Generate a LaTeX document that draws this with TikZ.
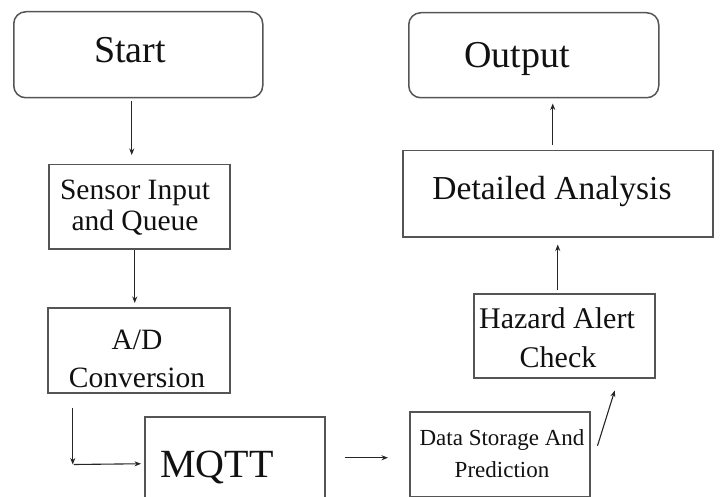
\documentclass[tikz,border=0pt]{standalone}
\usepackage{fontspec}
\setmainfont{Liberation Serif}
\usetikzlibrary{arrows.meta,calc}
\definecolor{boxgray}{HTML}{555555}
\definecolor{arrgray}{HTML}{252525}
\definecolor{txtcol}{HTML}{111111}
\begin{document}
\begin{tikzpicture}[x=1pt,y=-1pt,
  box/.style={draw=boxgray,line width=1.5pt,inner sep=0pt,anchor=north west,fill=white},
  rbox/.style={box,rounded corners=12pt},
  arr/.style={draw=arrgray,line width=1.1pt,-{Stealth[length=6.5pt,width=5pt]}},
  txt/.style={anchor=base,inner sep=0pt,text=txtcol}]
\useasboundingbox (0,0) rectangle (720,497);
\clip (0,0) rectangle (720,497);
% boxes
\node[rbox,minimum width=249pt,minimum height=86pt] (start) at (13,11) {};
\node[box,minimum width=181pt,minimum height=84pt] (sensor) at (48,164) {};
\node[box,minimum width=182pt,minimum height=85pt] (ad) at (47,307) {};
\node[box,minimum width=180pt,minimum height=100pt] (mqtt) at (144,416) {};
\node[box,minimum width=180pt,minimum height=85pt] (data) at (409,411) {};
\node[box,minimum width=181pt,minimum height=84pt] (hazard) at (473,293) {};
\node[box,minimum width=310pt,minimum height=86pt] (detail) at (402,150) {};
\node[rbox,minimum width=250pt,minimum height=85pt] (output) at (408,12) {};
% texts
\node[txt,font=\fontsize{38}{38}\selectfont] (startT) at (130,63) {Start};
\node[txt,font=\fontsize{38}{38}\selectfont] (outputT) at (517,68) {Output};
\node[txt,font=\fontsize{29.5}{29.5}\selectfont] (sensorT1) at (135,200) {Sensor Input};
\node[txt,font=\fontsize{29.5}{29.5}\selectfont] (sensorT2) at (135,230) {and Queue};
\node[txt,font=\fontsize{29.5}{29.5}\selectfont] (adT1) at (137,349) {A/D};
\node[txt,font=\fontsize{29.5}{29.5}\selectfont] (adT2) at (137,387) {Conversion};
\node[txt,font=\fontsize{40}{40}\selectfont] (mqttT) at (217,477) {MQTT};
\node[txt,font=\fontsize{23}{23}\selectfont] (dataT1) at (502,445) {Data Storage And};
\node[txt,font=\fontsize{23}{23}\selectfont] (dataT2) at (502,477) {Prediction};
\node[txt,font=\fontsize{30}{30}\selectfont] (hazT1) at (557,328) {Hazard Alert};
\node[txt,font=\fontsize{30}{30}\selectfont] (hazT2) at (558,367) {Check};
\node[txt,font=\fontsize{33.5}{33.5}\selectfont] (detT) at (552,200) {Detailed Analysis};
% connectors
\draw[arr] ($(start.south)+(-6.5,3)$) -- ($(sensor.north)+(-7.5,-9)$);
\draw[arr] ($(sensor.south)+(-4.5,0)$) -- ($(ad.north)+(-4,-4)$);
\coordinate (corner) at ($(ad.south)+(-66,71)$);
\draw[arr] ($(ad.south)+(-66,14)$) -- (corner);
\draw[arr] ($(corner)+(1,0)$) -- ($(mqtt.west)+(-3,-3)$);
\draw[arr] ($(mqtt.east)+(19,-9)$) -- ($(data.west)+(-21,3.5)$);
\draw[arr] ($(data.east)+(7,-8.5)$) -- ($(hazard.south)+(50.5,12)$);
\draw[arr] ($(hazard.north)+(-6.5,-3)$) -- ($(detail.south)+(0,7)$);
\draw[arr] ($(detail.north)+(-5,-5)$) -- ($(output.south)+(19,5)$);
\end{tikzpicture}
\end{document}
